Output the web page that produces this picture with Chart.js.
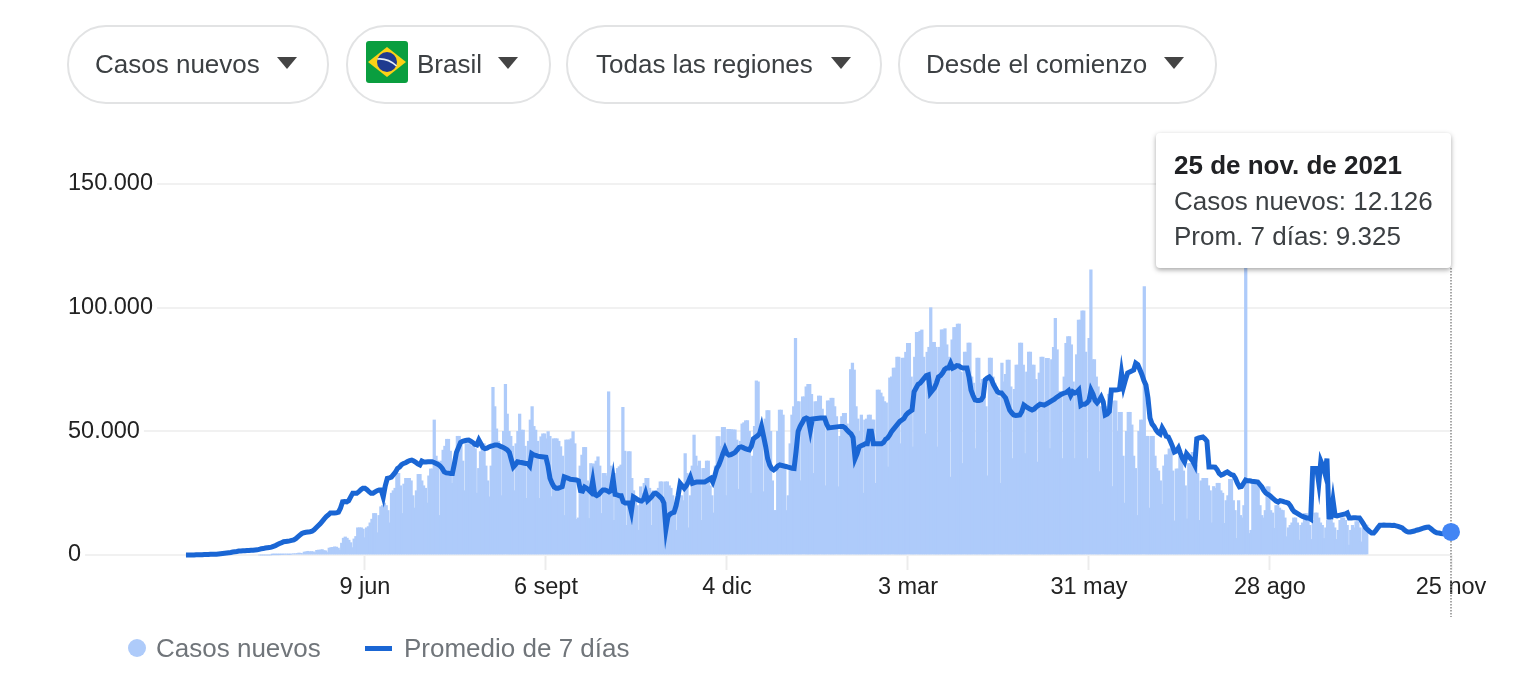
<!DOCTYPE html>
<html lang="es">
<head>
    <meta charset="UTF-8">
    <title>Casos nuevos - Brasil</title>
    <script src="https://cdn.jsdelivr.net/npm/chart.js"></script>
    <style>
        body { margin: 0; background: #fff; font-family: "Liberation Sans", Arial, sans-serif; overflow: hidden; }
        canvas { position: absolute; left: 0; top: 0; }
        .pill { position: absolute; top: 25px; height: 75px; border: 2px solid #e2e3e4; border-radius: 39px; background: #fff; box-sizing: content-box; }
        .pill span { position: absolute; top: 0; line-height: 75px; font-size: 26px; color: #3c4043; white-space: nowrap; }
        .arrow { position: absolute; top: 30px; width: 0; height: 0; border-left: 10px solid transparent; border-right: 10px solid transparent; border-top: 12px solid #444; }
        .flag { position: absolute; left: 18px; top: 14px; }
        #tooltip { position: absolute; left: 1156px; top: 133px; width: 295px; height: 135px; padding-top: 15px; box-sizing: border-box; background: #fff; border-radius: 4px; box-shadow: 0 2px 5px rgba(0,0,0,.35); font-size: 26px; line-height: 35.5px; color: #3c4043; white-space: nowrap; }
        #tooltip div { padding-left: 18px; }
        #tooltip .fecha { font-weight: bold; color: #202124; }
        .leyenda { position: absolute; top: 631px; line-height: 34px; font-size: 26px; color: #70757a; white-space: nowrap; }
        .punto { position: absolute; left: 128px; top: 639px; width: 18px; height: 18px; border-radius: 50%; background: #aecbfa; }
        .raya { position: absolute; left: 365px; top: 646px; width: 27px; height: 5px; background: #1a66d4; }
    </style>
</head>
<body>
    <canvas id="myChart" width="1524" height="684"></canvas>

    <div class="pill" style="left:67px;width:258px"><span style="left:26px">Casos nuevos</span><i class="arrow" style="left:208px"></i></div>
    <div class="pill" style="left:346px;width:201px">
        <svg class="flag" width="42" height="42" viewBox="0 0 42 42">
            <rect width="42" height="42" rx="3" fill="#0a9e3f"/>
            <path d="M21 6 L40 21 L21 36 L2 21 Z" fill="#fcd116"/>
            <circle cx="21" cy="21" r="10" fill="#1f3a8f"/>
            <path d="M11.5 18 Q22 17 30.5 25" stroke="#e8eef5" stroke-width="1.6" fill="none"/>
        </svg>
        <span style="left:69px">Brasil</span><i class="arrow" style="left:150px"></i>
    </div>
    <div class="pill" style="left:566px;width:312px"><span style="left:28px">Todas las regiones</span><i class="arrow" style="left:263px"></i></div>
    <div class="pill" style="left:898px;width:315px"><span style="left:26px">Desde el comienzo</span><i class="arrow" style="left:264px"></i></div>

    <div id="tooltip"></div>

    <i class="punto"></i><div class="leyenda" style="left:156px">Casos nuevos</div>
    <i class="raya"></i><div class="leyenda" style="left:404px">Promedio de 7 días</div>

    <script>
        // una fila por semana, desde el 13 de marzo de 2020
        const casosNuevos = [
            0,0,0,0,0,0,0,
            100,100,100,100,100,200,200,
            300,300,200,200,400,500,500,
            600,800,700,500,1200,1300,1500,
            1300,1400,1300,900,1900,2000,2000,
            2200,1800,1700,1000,2800,3000,3100,
            3300,3200,2800,2000,4800,6800,7300,
            6800,6000,5000,3000,6500,7500,11000,
            11000,11000,10500,7000,11000,11500,13000,
            14500,16800,16800,9000,16000,19500,20000,
            21000,20000,18000,13000,25000,26000,27000,
            33000,33000,28000,16800,28700,31000,31000,
            31000,30000,24000,19000,26000,32600,32600,
            30000,28000,27000,21000,32000,34800,34800,
            54600,40000,38000,16000,38000,42400,44000,
            46800,46800,42000,29000,36000,39000,48000,
            48000,45000,38000,26000,45000,45000,45000,
            44000,45000,43000,25000,35000,41800,45000,
            45000,36000,30000,23500,36000,67800,60000,
            51000,46000,44000,24000,50000,69000,57000,
            50000,48000,44000,26000,45000,50000,57000,
            50500,50500,44000,22900,46000,54600,60000,
            52000,50500,46000,22900,47800,49000,49000,
            47000,49900,48000,23600,47000,47000,47000,
            46000,43800,40000,16000,46500,46500,46500,
            47000,49900,45000,14400,15000,36000,40400,
            43500,43500,30000,14800,37000,36800,36800,
            38000,39700,36000,16800,33000,33000,32000,
            66000,36000,34000,14000,33000,35000,35700,
            36400,59700,42000,12000,41800,41800,31000,
            26000,22000,20000,10000,27600,25000,29000,
            31000,31000,27000,12000,26000,26000,24000,
            27000,29600,29600,15500,29600,29600,28000,
            27000,24000,21000,10000,24000,24000,24000,
            22000,41000,33000,11000,24000,36000,48500,
            40000,36000,38000,14000,35000,35000,38000,
            38000,28000,24000,17000,36000,47900,47900,
            44000,51600,51600,24000,50800,50800,50700,
            50600,50600,46500,26600,46000,53000,53500,
            54300,54300,50000,25000,40000,52000,70400,
            70000,52000,48000,25600,55000,58400,58400,
            50000,30000,18000,18000,50000,58600,58600,
            56600,36000,18000,24000,45000,56600,60000,
            87600,62000,62000,30000,64000,64000,68000,
            69000,69000,65000,33000,62000,62000,64300,
            64300,59000,55000,28000,62300,62300,63400,
            63400,60000,56000,27600,48000,56000,57300,
            57300,53000,50000,75000,77600,74800,60000,
            55000,50000,56600,25000,54600,55000,56600,
            56600,54600,54600,29000,66700,66700,65500,
            64000,62000,61500,35600,71600,72000,75600,
            75600,80000,80000,45000,79600,79600,82000,
            85600,85600,72000,43700,80000,90000,90000,
            90500,91000,80000,49000,82000,84000,100000,
            86000,86000,84000,43700,84000,91000,91000,
            91500,85000,80000,31500,87000,92000,92000,
            93400,93400,74000,37000,82000,82000,85700,
            85700,72000,69500,43000,79600,79600,69500,
            71000,71000,60000,32000,79600,79600,72000,
            69500,66000,64000,29000,77600,70000,73000,
            78800,78800,68000,39000,67000,76800,76800,
            85700,85700,76800,41000,74000,82000,82000,
            76800,76800,71000,37600,73600,80000,80000,
            62000,79500,79500,43000,79000,84000,95700,
            83000,66000,66000,39000,72000,85600,88300,
            88300,85000,70000,39000,81000,95000,95000,
            98700,98700,82000,39000,87600,115300,79000,
            79000,72000,68000,33700,60000,58000,56000,
            60000,65000,65000,27700,62300,62300,50000,
            57700,57700,40000,21000,50000,57700,57700,
            52600,40000,35000,16000,50000,54600,54600,
            108500,48000,48000,19000,48000,48000,40000,
            35000,34000,30000,20500,36000,40500,40500,
            42900,42900,34000,13800,34800,34800,39800,
            39800,34000,28000,14600,37000,37000,41500,
            41500,36400,33000,14000,30000,31000,31000,
            31000,28000,26000,13000,27700,27000,29000,
            29000,26000,25000,12800,22000,24000,30600,
            30600,22000,18000,6700,22000,16000,15000,
            20000,150000,30000,8700,10000,30000,30000,
            30000,28000,20000,16000,15000,18000,27600,
            27600,18000,17000,10800,20000,20000,19000,
            18200,18000,15000,7400,11000,12000,13000,
            15000,15000,13000,6000,12000,13000,16800,
            16800,15000,12000,6300,14000,17000,17000,
            15000,13000,12000,6700,11000,14000,14400,
            14000,13000,11000,6300,10000,14000,15000,
            15000,14000,12000,4000,10000,12000,11000,
            13500,13500,11000,5300,11000,12000,12126
        ];

        const promedio7Dias = [
            0,0,0,0,0,100,100,
            100,100,200,200,200,300,300,
            300,300,400,500,600,700,800,
            900,1000,1200,1300,1400,1600,1600,
            1700,1700,1800,1800,1900,1900,2000,
            2100,2300,2500,2600,2800,2900,3000,
            3200,3500,3800,4200,4600,5000,5400,
            5500,5600,5700,5900,6100,6600,7300,
            8000,8700,9000,9200,9300,9400,9600,
            10200,11000,11800,12600,13600,14600,15500,
            16200,17000,17000,17000,17100,17300,19000,
            21500,21600,21500,22000,23500,25000,25000,
            25000,25600,26400,27000,27000,26400,25600,
            25000,25000,25500,26000,26300,26300,23500,
            28000,31000,31200,31500,32500,33500,35000,
            35500,36500,37000,37300,37800,38200,38400,
            38000,37500,36800,36400,38000,37600,37600,
            37700,37700,37700,37400,37000,36600,36000,
            35000,33600,33200,33100,33000,33000,37000,
            41500,43500,45500,46000,46200,46400,46500,
            46000,45500,44800,44500,46500,45000,43500,
            43000,43200,43700,44000,44200,44500,44500,
            44200,43800,43500,43000,42500,41500,38500,
            35600,36500,37700,37500,37400,37200,37000,
            37000,36000,41000,40500,40300,40000,39800,
            39700,39600,39500,36000,31000,29000,27500,
            27000,27000,27300,27600,31600,31300,31000,
            30600,30500,30400,30300,30000,26000,25800,
            27500,27000,26300,25500,30000,24500,24000,
            24500,25500,26300,26300,26000,25500,26000,
            31000,24500,24300,24000,24000,21500,21000,
            21000,21000,17500,23500,23000,22400,22000,
            21800,22500,25000,22000,22800,23600,24800,
            25000,24400,23600,22800,21000,10500,15500,
            16500,17000,17300,20000,24000,29000,28000,
            27000,28000,29500,31500,29000,29300,29500,
            29500,29500,29500,29500,30000,30500,31000,
            29500,32000,35000,36400,38500,41000,43000,
            41000,40400,40600,41000,41500,42500,43500,
            43700,43400,43000,42700,42500,44000,47000,
            47600,48200,49000,52000,48000,44000,39000,
            36400,35000,34400,35000,36000,36400,36200,
            36000,35800,35500,35300,35100,35000,42000,
            50000,52000,53500,55000,55400,55000,50500,
            55000,55100,55200,55300,55400,55400,55400,
            53000,51400,51500,51600,51700,51800,51900,
            52000,52000,51500,50500,49700,49000,47500,
            39000,41000,43700,44200,44500,45000,45000,
            50000,50000,45000,45000,45000,45000,45000,
            45500,46800,47300,48500,50000,51000,52000,
            53000,54000,54600,55200,56600,57400,58000,
            58600,66000,67500,69000,69500,70500,71500,
            72500,72800,65500,66500,67500,69500,72000,
            72500,73500,75000,75600,75600,77500,75600,
            76000,76600,76500,75900,75600,75600,75600,
            72000,66700,64500,62700,62500,62500,62700,
            64000,70800,71500,72000,71000,69000,67500,
            66000,65500,65500,64500,63500,61000,58600,
            57500,56600,56400,56500,56600,58000,60600,
            60000,59500,59000,58600,59000,59800,60400,
            61000,60800,60600,61000,61500,62000,62500,
            63000,63700,64200,64800,65200,65500,65800,
            66500,64500,66000,65500,65800,66700,60500,
            61000,61000,61500,62500,66700,65000,62500,
            61500,62500,63900,62000,56600,57000,58000,
            66700,66700,66700,66800,67000,73600,68000,
            71000,73600,74000,74400,74800,77600,77000,
            75000,73000,70500,68700,63500,55400,53000,
            52000,50500,49500,48900,51400,50000,48000,
            47700,46000,44000,41600,42000,43300,41000,
            39000,37600,41000,40000,39000,38000,36400,
            47000,47300,47500,47700,47000,46000,35600,
            35600,35600,35500,34500,33000,32300,32600,
            33200,33600,33000,32500,32300,31000,29000,
            27500,27700,29000,30300,30000,30000,29800,
            29700,29600,29500,28500,27500,26000,25000,
            24500,24000,23200,22500,21800,21400,22000,
            21800,21500,21300,21000,20000,18500,17500,
            17000,16500,16000,15600,15300,15000,15000,
            14500,35000,35000,35000,29000,38000,36000,
            33000,39000,15400,15400,22000,16000,15800,
            16000,16200,16400,16600,17000,15000,15000,
            15100,15100,15000,15000,13800,12500,11000,
            10200,9500,8900,8900,9800,11000,12000,
            12000,12100,12000,12000,12000,11900,12000,
            11800,11600,11300,11000,10200,9600,9300,
            9300,9500,9700,10000,10200,10500,10800,
            11000,11200,11300,10700,10000,9400,9000,
            8900,8700,8600,8700,9000,9200,9325
        ];

        const fechaSeleccionada = '25 de nov. de 2021';
        const diasTicks = [88, 177, 266, 355, 444, 533, 622];
        const etiquetasTicks = ['9 jun', '6 sept', '4 dic', '3 mar', '31 may', '28 ago', '25 nov'];

        const ultimo = casosNuevos.length - 1;
        const miles = v => v.toLocaleString('de-DE');

        document.getElementById('tooltip').innerHTML =
            '<div class="fecha">' + fechaSeleccionada + '</div>' +
            '<div>Casos nuevos: ' + miles(casosNuevos[ultimo]) + '</div>' +
            '<div>Prom. 7 días: ' + miles(promedio7Dias[ultimo]) + '</div>';

        // linea punteada vertical sobre el ultimo dia, por encima de las barras y debajo de la curva
        const lineaFecha = {
            id: 'lineaFecha',
            afterDatasetDraw(chart, args) {
                if (args.index !== 1) return;
                const ctx = chart.ctx;
                const x = chart.scales.x.getPixelForValue(ultimo);
                ctx.save();
                ctx.strokeStyle = '#8a8a8a';
                ctx.lineWidth = 1.5;
                ctx.setLineDash([1.5, 1.5]);
                ctx.beginPath();
                ctx.moveTo(x, 268);
                ctx.lineTo(x, 617);
                ctx.stroke();
                ctx.restore();
            }
        };

        const ctx = document.getElementById('myChart').getContext('2d');
        const fuente = { family: '"Liberation Sans", Arial, sans-serif', size: 23.5 };

        new Chart(ctx, {
            data: {
                datasets: [{
                    type: 'line',
                    label: 'Promedio de 7 días',
                    data: promedio7Dias.map((v, i) => ({ x: i, y: v })),
                    xAxisID: 'x',
                    borderColor: '#1a66d4',
                    borderWidth: 5,
                    borderJoinStyle: 'miter',
                    tension: 0,
                    clip: false,
                    pointRadius: c => c.dataIndex === ultimo ? 9 : 0,
                    pointBackgroundColor: '#4285f4',
                    pointBorderWidth: 0,
                    order: 0
                }, {
                    type: 'bar',
                    label: 'Casos nuevos',
                    data: casosNuevos.map((v, i) => ({ x: i, y: v })),
                    xAxisID: 'xBarras',
                    backgroundColor: '#aecbfa',
                    barThickness: 2.6,
                    clip: false,
                    order: 1
                }]
            },
            options: {
                responsive: false,
                animation: false,
                events: [],
                layout: { autoPadding: false, padding: { left: 68, top: 184, right: 73, bottom: 0 } },
                plugins: { legend: { display: false }, tooltip: { enabled: false } },
                scales: {
                    x: {
                        type: 'linear',
                        min: -58,
                        max: ultimo,
                        afterBuildTicks: s => { s.ticks = diasTicks.map(v => ({ value: v })); },
                        afterFit: s => { s.height = 129; },
                        grid: { drawOnChartArea: false, drawTicks: true, tickLength: 15, tickColor: '#ececec', tickWidth: 2 },
                        border: { display: false },
                        ticks: {
                            autoSkip: false,
                            maxRotation: 0,
                            padding: 3,
                            color: '#222',
                            font: fuente,
                            callback: v => etiquetasTicks[diasTicks.indexOf(v)]
                        }
                    },
                    // las barras van medio dia a la derecha de la curva
                    xBarras: { type: 'linear', display: false, min: -58.5, max: ultimo - 0.5 },
                    y: {
                        min: 0,
                        max: 150000,
                        grid: { color: '#f1f1f1', lineWidth: 2, drawTicks: false },
                        border: { display: false },
                        ticks: {
                            stepSize: 50000,
                            mirror: true,
                            padding: 0,
                            color: '#222',
                            font: fuente,
                            showLabelBackdrop: true,
                            backdropColor: '#fff',
                            backdropPadding: { left: 0, top: 1, bottom: 1, right: 4 },
                            callback: v => miles(v)
                        }
                    }
                }
            },
            plugins: [lineaFecha]
        });
    </script>
</body>
</html>
